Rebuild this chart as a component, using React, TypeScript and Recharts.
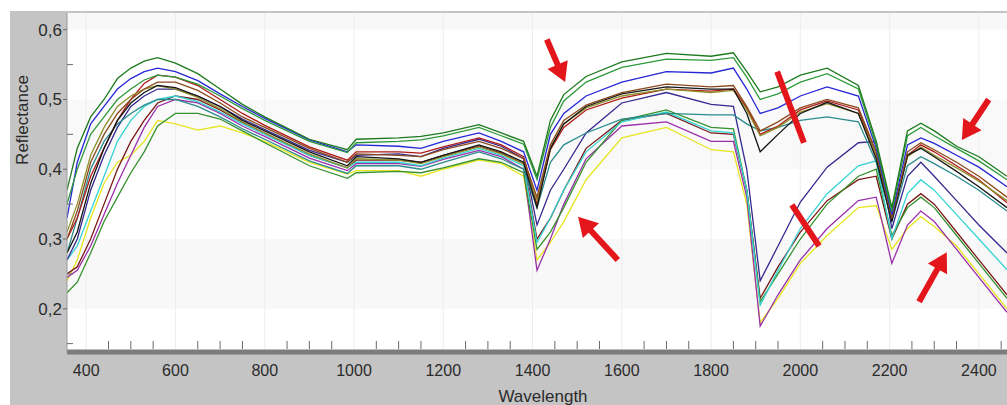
import React from 'react';
import { LineChart, Line, XAxis, YAxis, ReferenceArea, ReferenceLine } from 'recharts';

const wavelengths = [
  357, 380, 410, 440, 470, 500, 530, 560, 600, 650, 700, 750, 800, 900, 985, 1005,
  1100, 1150, 1200, 1280, 1330, 1380, 1410, 1440, 1470, 1520, 1600, 1700, 1800, 1850,
  1880, 1910, 1950, 2000, 2060, 2130, 2170, 2205, 2240, 2270, 2300, 2350, 2400, 2463,
];

const greenTop = [0.37, 0.43, 0.475, 0.5, 0.53, 0.545, 0.555, 0.56, 0.552, 0.537, 0.515, 0.493, 0.475, 0.443, 0.428, 0.443, 0.445, 0.447, 0.452, 0.464, 0.452, 0.44, 0.39, 0.47, 0.507, 0.533, 0.554, 0.566, 0.562, 0.567, 0.54, 0.511, 0.518, 0.535, 0.545, 0.52, 0.44, 0.345, 0.455, 0.466, 0.455, 0.433, 0.418, 0.39];
const greenTwo = [0.35, 0.4, 0.45, 0.475, 0.5, 0.515, 0.528, 0.535, 0.532, 0.522, 0.505, 0.487, 0.47, 0.44, 0.424, 0.438, 0.44, 0.442, 0.448, 0.46, 0.448, 0.436, 0.385, 0.46, 0.498, 0.525, 0.546, 0.558, 0.556, 0.56, 0.532, 0.5, 0.508, 0.525, 0.537, 0.515, 0.435, 0.34, 0.448, 0.46, 0.448, 0.43, 0.412, 0.385];
const blue = [0.33, 0.41, 0.465, 0.49, 0.515, 0.53, 0.54, 0.545, 0.54, 0.527, 0.508, 0.49, 0.473, 0.442, 0.425, 0.435, 0.433, 0.43, 0.44, 0.452, 0.44, 0.425, 0.37, 0.45, 0.48, 0.505, 0.525, 0.54, 0.538, 0.545, 0.515, 0.48, 0.488, 0.505, 0.518, 0.505, 0.43, 0.335, 0.435, 0.445, 0.437, 0.42, 0.403, 0.375];
const brown = [0.3, 0.34, 0.41, 0.45, 0.48, 0.5, 0.515, 0.525, 0.525, 0.513, 0.495, 0.475, 0.46, 0.43, 0.41, 0.422, 0.42, 0.418, 0.428, 0.44, 0.43, 0.415, 0.36, 0.435, 0.47, 0.492, 0.51, 0.522, 0.518, 0.52, 0.49, 0.455, 0.468, 0.488, 0.5, 0.488, 0.425, 0.33, 0.425, 0.438, 0.428, 0.41, 0.39, 0.36];
const black = [0.28, 0.31, 0.38, 0.43, 0.47, 0.495, 0.51, 0.52, 0.517, 0.505, 0.49, 0.47, 0.455, 0.425, 0.405, 0.418, 0.415, 0.41, 0.42, 0.435, 0.425, 0.41, 0.345, 0.43, 0.465, 0.49, 0.508, 0.518, 0.515, 0.515, 0.48, 0.425, 0.45, 0.48, 0.496, 0.48, 0.415, 0.325, 0.42, 0.43, 0.418, 0.397, 0.375, 0.345];
const olive = [0.31, 0.35, 0.42, 0.46, 0.49, 0.505, 0.515, 0.52, 0.515, 0.503, 0.487, 0.468, 0.452, 0.422, 0.402, 0.415, 0.413, 0.408, 0.418, 0.432, 0.422, 0.408, 0.355, 0.43, 0.465, 0.488, 0.505, 0.515, 0.51, 0.513, 0.485, 0.448, 0.46, 0.482, 0.494, 0.48, 0.42, 0.33, 0.418, 0.432, 0.42, 0.402, 0.383, 0.355];
const red = [0.3, 0.33, 0.39, 0.43, 0.47, 0.5, 0.523, 0.535, 0.532, 0.52, 0.5, 0.48, 0.463, 0.432, 0.413, 0.425, 0.425, 0.423, 0.432, 0.445, 0.435, 0.418, 0.35, 0.428, 0.46, 0.485, 0.502, 0.515, 0.512, 0.515, 0.488, 0.45, 0.462, 0.485, 0.498, 0.485, 0.42, 0.33, 0.42, 0.435, 0.425, 0.405, 0.385, 0.352];
const teal = [0.28, 0.33, 0.4, 0.44, 0.465, 0.48, 0.492, 0.5, 0.5, 0.49, 0.475, 0.458, 0.443, 0.412, 0.394, 0.405, 0.405, 0.4, 0.41, 0.425, 0.415, 0.4, 0.345, 0.41, 0.435, 0.452, 0.472, 0.48, 0.478, 0.478, 0.465, 0.455, 0.46, 0.47, 0.475, 0.468, 0.41, 0.325, 0.405, 0.418, 0.408, 0.39, 0.37, 0.34];
const navy = [0.27, 0.3, 0.37, 0.42, 0.46, 0.49, 0.505, 0.515, 0.515, 0.505, 0.49, 0.472, 0.457, 0.427, 0.41, 0.42, 0.422, 0.418, 0.43, 0.443, 0.433, 0.415, 0.32, 0.37, 0.4, 0.452, 0.495, 0.51, 0.493, 0.49, 0.4, 0.24, 0.29, 0.353, 0.403, 0.438, 0.44, 0.315, 0.39, 0.41, 0.39, 0.355, 0.32, 0.28];
const cyan = [0.27, 0.29, 0.34, 0.39, 0.44, 0.47, 0.49, 0.5, 0.505, 0.497, 0.482, 0.465, 0.45, 0.42, 0.402, 0.41, 0.41, 0.405, 0.416, 0.43, 0.42, 0.405, 0.295, 0.33, 0.37, 0.425, 0.468, 0.482, 0.455, 0.452, 0.37, 0.205, 0.255, 0.315, 0.365, 0.405, 0.412, 0.3, 0.365, 0.385, 0.37, 0.335, 0.3, 0.256];
const greenLow = [0.223, 0.238, 0.28, 0.325, 0.36, 0.395, 0.425, 0.462, 0.48, 0.48, 0.472, 0.455, 0.438, 0.405, 0.387, 0.395, 0.397, 0.395, 0.402, 0.415, 0.41, 0.395, 0.285, 0.31, 0.345, 0.41, 0.47, 0.485, 0.46, 0.458, 0.37, 0.21, 0.25, 0.3, 0.35, 0.39, 0.4, 0.305, 0.345, 0.36, 0.345, 0.305, 0.265, 0.215];
const maroon = [0.25, 0.26, 0.3, 0.35, 0.4, 0.44, 0.47, 0.495, 0.505, 0.5, 0.485, 0.467, 0.452, 0.42, 0.402, 0.413, 0.413, 0.41, 0.42, 0.433, 0.423, 0.408, 0.3, 0.33, 0.37, 0.43, 0.47, 0.48, 0.452, 0.45, 0.37, 0.215, 0.26, 0.31, 0.355, 0.385, 0.39, 0.3, 0.35, 0.365, 0.35, 0.31, 0.27, 0.22];
const purple = [0.245, 0.255, 0.29, 0.335, 0.38, 0.42, 0.46, 0.49, 0.5, 0.495, 0.48, 0.462, 0.447, 0.416, 0.398, 0.408, 0.408, 0.404, 0.414, 0.427, 0.418, 0.4, 0.255, 0.3, 0.35, 0.415, 0.462, 0.468, 0.44, 0.44, 0.36, 0.175, 0.22, 0.27, 0.315, 0.355, 0.36, 0.265, 0.32, 0.34, 0.325, 0.285, 0.245, 0.195];
const yellow = [0.24, 0.27, 0.33, 0.38, 0.41, 0.42, 0.44, 0.47, 0.465, 0.456, 0.462, 0.452, 0.44, 0.41, 0.393, 0.398, 0.398, 0.39, 0.4, 0.413, 0.408, 0.39, 0.27, 0.295, 0.325, 0.385, 0.445, 0.46, 0.428, 0.425, 0.35, 0.18, 0.215, 0.265, 0.305, 0.345, 0.348, 0.285, 0.315, 0.332, 0.318, 0.29, 0.25, 0.2];

const series = [
  { key: 'yellow', values: yellow, color: '#e6e61e' },
  { key: 'purple', values: purple, color: '#9b2fab' },
  { key: 'maroon', values: maroon, color: '#7a1818' },
  { key: 'greenLow', values: greenLow, color: '#35922e' },
  { key: 'cyan', values: cyan, color: '#35d2d2' },
  { key: 'navy', values: navy, color: '#35288f' },
  { key: 'teal', values: teal, color: '#2a8c8c' },
  { key: 'red', values: red, color: '#b01a1a' },
  { key: 'olive', values: olive, color: '#8f8f2a' },
  { key: 'black', values: black, color: '#151515' },
  { key: 'brown', values: brown, color: '#8b4a1c' },
  { key: 'blue', values: blue, color: '#2626d6' },
  { key: 'greenTwo', values: greenTwo, color: '#2d9a3a' },
  { key: 'greenTop', values: greenTop, color: '#1d7a1d' },
];

const xMajor = [400, 600, 800, 1000, 1200, 1400, 1600, 1800, 2000, 2200, 2400];
const xMinor = [
  450, 500, 550, 650, 700, 750, 850, 900, 950, 1050, 1100, 1150, 1250, 1300, 1350,
  1450, 1500, 1550, 1650, 1700, 1750, 1850, 1900, 1950, 2050, 2100, 2150, 2250, 2300, 2350, 2450,
];
const yMajor = [0.2, 0.3, 0.4, 0.5, 0.6];
const yMinor = [0.15, 0.25, 0.35, 0.45, 0.55];

const X_DOMAIN: [number, number] = [357, 2463];
const Y_DOMAIN: [number, number] = [0.138, 0.624];

// red marks drawn over the spectra
const arrows = [
  { from: { x: 1432, y: 0.586 }, to: { x: 1473, y: 0.525 } },
  { from: { x: 1591, y: 0.27 }, to: { x: 1502, y: 0.332 } },
  { from: { x: 2422, y: 0.5 }, to: { x: 2362, y: 0.442 } },
  { from: { x: 2266, y: 0.21 }, to: { x: 2328, y: 0.281 } },
];
const bars = [
  { from: { x: 1948, y: 0.54 }, to: { x: 2008, y: 0.438 } },
  { from: { x: 1981, y: 0.349 }, to: { x: 2042, y: 0.29 } },
];

const data = wavelengths.map((w, i) => {
  const row: any = { w };
  series.forEach((s) => {
    row[s.key] = s.values[i];
  });
  return row;
});

const font = "'Liberation Sans', Arial, sans-serif";
const ANNOT = '#e3161c';

const XTick = (props: any) => {
  const { x, y, payload } = props;
  if (xMajor.includes(payload.value)) {
    return (
      <text x={x} y={y + 24} textAnchor="middle" fontFamily={font} fontSize={16} fill="#2b2b2b">
        {payload.value}
      </text>
    );
  }
  return <line x1={x} x2={x} y1={y - 3} y2={y - 11} stroke="#6a6a6a" strokeWidth={1} />;
};

const YTick = (props: any) => {
  const { x, y, payload } = props;
  const v = Number(payload.value);
  if (yMajor.some((m) => Math.abs(m - v) < 1e-6)) {
    return (
      <g>
        <line x1={x - 4} x2={x} y1={y} y2={y} stroke="#6a6a6a" />
        <text x={x - 5} y={y + 6} textAnchor="end" fontFamily={font} fontSize={17} fill="#2b2b2b">
          {v.toFixed(1).replace('.', ',')}
        </text>
      </g>
    );
  }
  return <line x1={x} x2={x + 6} y1={y} y2={y} stroke="#6a6a6a" />;
};

const ArrowShape = (props: any) => {
  const { x1, y1, x2, y2 } = props;
  const dx = x2 - x1;
  const dy = y2 - y1;
  const len = Math.sqrt(dx * dx + dy * dy);
  const ux = dx / len;
  const uy = dy / len;
  const headLen = 19;
  const headW = 11;
  const bx = x2 - ux * headLen;
  const by = y2 - uy * headLen;
  return (
    <g>
      <line x1={x1} y1={y1} x2={bx + ux * 2} y2={by + uy * 2} stroke={ANNOT} strokeWidth={6} />
      <polygon
        points={`${x2},${y2} ${bx - uy * headW},${by + ux * headW} ${bx + uy * headW},${by - ux * headW}`}
        fill={ANNOT}
      />
    </g>
  );
};

const App: React.FC = () => {
  return (
    <div style={{ position: 'absolute', left: 0, top: 0, width: 1007, height: 405, background: '#fff', overflow: 'hidden' }}>
      <div style={{ position: 'absolute', left: 10, top: 11, width: 997, height: 394, background: '#c4c4c4' }} />
      <div style={{ position: 'absolute', left: 0, top: 0 }}>
        <LineChart width={1007} height={405} data={data} margin={{ top: 13, right: 0, left: 10, bottom: 0 }}>
          <XAxis
            dataKey="w"
            type="number"
            domain={X_DOMAIN}
            allowDataOverflow
            ticks={[...xMajor, ...xMinor].sort((a, b) => a - b)}
            interval={0}
            tick={XTick}
            tickLine={false}
            tickSize={0}
            tickMargin={0}
            height={53}
            axisLine={{ stroke: '#7c7c7c', strokeWidth: 5 }}
            label={{
              content: (p: any) => (
                <text x={p.viewBox.x + 476} y={p.viewBox.y + 50} textAnchor="middle" fontFamily={font} fontSize={17} fill="#2b2b2b">
                  Wavelength
                </text>
              ),
            }}
          />
          <YAxis
            type="number"
            domain={Y_DOMAIN}
            allowDataOverflow
            ticks={[...yMinor, ...yMajor].sort((a, b) => a - b)}
            interval={0}
            tick={YTick}
            tickLine={false}
            tickSize={0}
            tickMargin={0}
            width={57}
            axisLine={{ stroke: '#9a9a9a' }}
            label={{
              content: (p: any) => (
                <text
                  x={p.viewBox.x + 12}
                  y={p.viewBox.y + 107}
                  transform={`rotate(-90 ${p.viewBox.x + 12} ${p.viewBox.y + 107})`}
                  textAnchor="middle"
                  dominantBaseline="central"
                  fontFamily={font}
                  fontSize={17}
                  fill="#2b2b2b"
                >
                  Reflectance
                </text>
              ),
            }}
          />
          <ReferenceArea x1={X_DOMAIN[0]} x2={X_DOMAIN[1]} y1={Y_DOMAIN[0]} y2={Y_DOMAIN[1]} fill="#ffffff" fillOpacity={1} stroke="none" />
          <ReferenceArea x1={X_DOMAIN[0]} x2={X_DOMAIN[1]} y1={0.6} y2={Y_DOMAIN[1]} fill="#f8f8f8" fillOpacity={1} stroke="none" />
          <ReferenceArea x1={X_DOMAIN[0]} x2={X_DOMAIN[1]} y1={0.4} y2={0.5} fill="#f9f9f9" fillOpacity={1} stroke="none" />
          <ReferenceArea x1={X_DOMAIN[0]} x2={X_DOMAIN[1]} y1={0.2} y2={0.3} fill="#f8f8f8" fillOpacity={1} stroke="none" />
          {xMajor.map((v) => (
            <ReferenceLine key={`g${v}`} x={v} stroke="#eeeeee" />
          ))}
          {series.map((s) => (
            <Line
              key={s.key}
              dataKey={s.key}
              stroke={s.color}
              strokeWidth={1.3}
              dot={false}
              isAnimationActive={false}
            />
          ))}
          {bars.map((b, i) => (
            <ReferenceLine key={`b${i}`} segment={[b.from, b.to]} stroke={ANNOT} strokeWidth={6} ifOverflow="visible" />
          ))}
          {arrows.map((a, i) => (
            <ReferenceLine key={`a${i}`} segment={[a.from, a.to]} shape={ArrowShape} ifOverflow="visible" />
          ))}
        </LineChart>
      </div>
    </div>
  );
};

export default App;
